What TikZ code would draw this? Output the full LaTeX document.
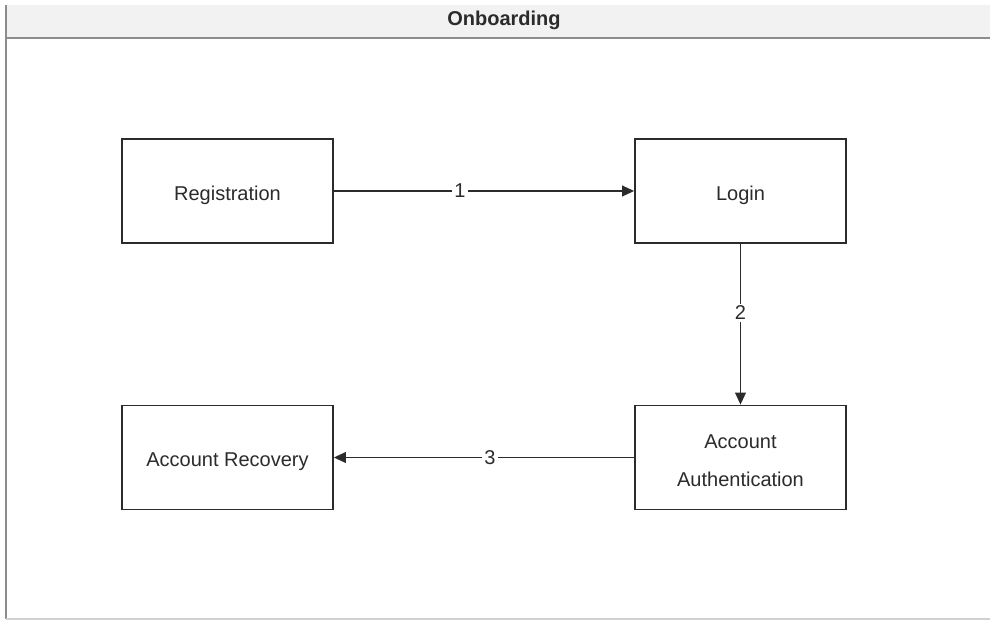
\documentclass[tikz,border=0pt]{standalone}
\usepackage{fontspec}
\setmainfont{Liberation Sans}
\usetikzlibrary{arrows.meta}
\definecolor{inkgray}{HTML}{2B2B2B}
\definecolor{framegray}{HTML}{8C8C8C}
\definecolor{barfill}{HTML}{F2F2F2}
\tikzset{
  stepbox/.style={draw=inkgray, line width=1.3pt, fill=white, minimum width=158.25pt,
    minimum height=78pt, inner sep=0pt},
  steptext/.style={align=center, text=inkgray, font=\fontsize{15}{28.5}\selectfont, inner sep=0pt},
  flow/.style={draw=inkgray, line width=1.3pt, -{Triangle[length=9pt,width=8pt]}},
  numlabel/.style={fill=white, text=inkgray, font=\fontsize{15}{18}\selectfont, inner sep=1.5pt}
}
\begin{document}
\begin{tikzpicture}[x=0.75pt, y=-0.75pt]
  \useasboundingbox (0,0) rectangle (990,622);
  % swimlane container
  \fill[barfill] (6,5) rectangle (995,38);
  \draw[framegray, line width=1.2pt] (6,5) -- (6,619);
  \draw[framegray, line width=1.2pt] (6,38) -- (995,38);
  \draw[framegray!40, line width=0.8pt] (6,619) -- (995,619);
  \node[font=\bfseries\fontsize{15}{18}\selectfont, text=inkgray] (lane) at (504,20) {Onboarding};
  % steps
  \node[stepbox] (reg) at (227.5,191) {};
  \node[stepbox] (login) at (740.5,191) {};
  \node[stepbox] (rec) at (227.5,457.5) {};
  \node[stepbox] (auth) at (740.5,457.5) {};
  \node[steptext] (regtext) at ([yshift=-3.5pt]reg.center) {Registration};
  \node[steptext] (logintext) at ([yshift=-3.5pt]login.center) {Login};
  \node[steptext] (rectext) at ([yshift=-3.5pt]rec.center) {Account Recovery};
  \node[steptext] (authtext) at ([yshift=-2.5pt]auth.center) {Account\\Authentication};
  % transitions
  \draw[flow] (reg) -- node[numlabel, pos=0.42] {1} (login);
  \draw[flow] (login) -- node[numlabel, pos=0.43] {2} (auth);
  \draw[flow] (auth) -- node[numlabel, pos=0.48] {3} (rec);
\end{tikzpicture}
\end{document}
